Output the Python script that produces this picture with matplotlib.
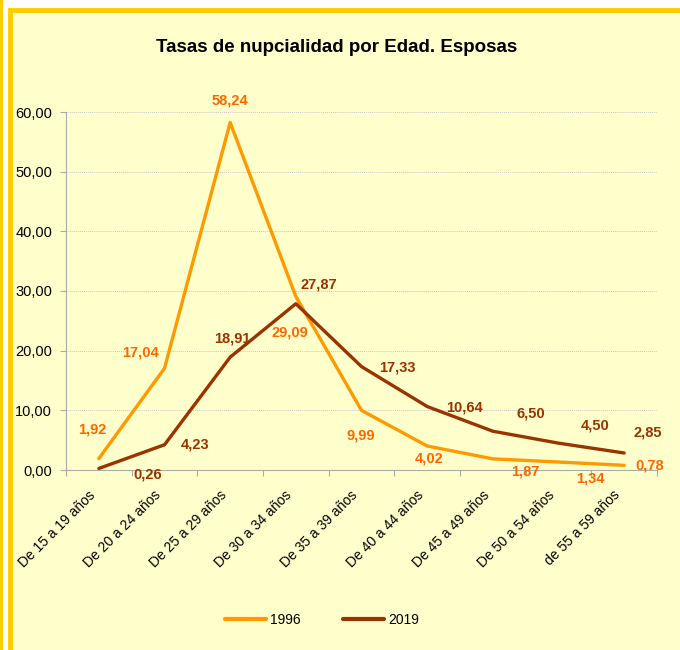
import matplotlib
matplotlib.use("Agg")
import matplotlib.pyplot as plt
from matplotlib.patches import Rectangle
from matplotlib.transforms import ScaledTranslation

plt.rcParams['font.family'] = ['Liberation Sans', 'DejaVu Sans']

categories = ["De 15 a 19 años", "De 20 a 24 años", "De 25 a 29 años", "De 30 a 34 años",
              "De 35 a 39 años", "De 40 a 44 años", "De 45 a 49 años", "De 50 a 54 años",
              "de 55 a 59 años"]
v1996 = [1.92, 17.04, 58.24, 29.09, 9.99, 4.02, 1.87, 1.34, 0.78]
v2019 = [0.26, 4.23, 18.91, 27.87, 17.33, 10.64, 6.50, 4.50, 2.85]
yticks = [0, 10, 20, 30, 40, 50, 60]

# label offsets in pixels (dx, dy)
off1996 = [(-7, 29), (-24, 16), (0, 22), (-6, -36), (-1, -25), (2, -12), (32, -13), (32, -16), (26, 0)]
off2019 = [(49, -6), (31, 0), (2, 19), (23, 19), (36, -1), (37, -1), (38, 18), (37, 18), (24, 20)]

W, H = 680, 650
fig = plt.figure(figsize=(W / 100, H / 100), dpi=100)
fig.patch.set_facecolor('white')

# frame
fig.patches.append(Rectangle((10 / W, -0.05), (W + 10) / W - 10 / W, (H - 10) / H + 0.05,
                             transform=fig.transFigure, facecolor='#FFFFCC',
                             edgecolor='#FFCC00', linewidth=3.5, zorder=-10))
fig.patches.append(Rectangle((0, 0), 3 / W, 1, transform=fig.transFigure,
                             facecolor='#FFCC00', edgecolor='none', zorder=-10))

left, right, top, bottom = 66, 657, 112, 470
ax = fig.add_axes([left / W, 1 - bottom / H, (right - left) / W, (bottom - top) / H])
ax.set_facecolor('none')
ax.set_zorder(1)

x = list(range(len(categories)))
ax.plot(x, v1996, color='#FF9900', linewidth=2.4, solid_capstyle='round', zorder=3, label='1996')
ax.plot(x, v2019, color='#993300', linewidth=2.4, solid_capstyle='round', zorder=3, label='2019')

for i, v in enumerate(v1996):
    ax.annotate(f"{v:.2f}".replace('.', ','), (i, v), xytext=off1996[i], textcoords='offset pixels',
                ha='center', va='center', color='#FF6600', fontsize=10.5, fontweight='bold', zorder=4)
for i, v in enumerate(v2019):
    ax.annotate(f"{v:.2f}".replace('.', ','), (i, v), xytext=off2019[i], textcoords='offset pixels',
                ha='center', va='center', color='#993300', fontsize=10.5, fontweight='bold', zorder=4)

ax.set_xlim(-0.5, len(categories) - 0.5)
ax.set_ylim(0, 60)
ax.set_yticks(yticks)
ax.set_yticklabels([f"{t:.2f}".replace('.', ',') for t in yticks], fontsize=10.5)
ax.yaxis.grid(True, color='#C8C8C8', linestyle=(0, (1, 1)), linewidth=0.7)
ax.set_axisbelow(True)

ax.set_xticks([i - 0.5 for i in range(len(categories) + 1)])
ax.set_xticklabels([])
ax.tick_params(axis='x', which='major', length=4, color='#AAAAAA')
ax.tick_params(axis='y', length=4, color='#AAAAAA', pad=6)

# category labels, rotated 45 degrees, right end under each category
xt = ax.get_xaxis_transform() + ScaledTranslation(-6 / 100, -23 / 100, fig.dpi_scale_trans)
for i, c in enumerate(categories):
    ax.text(i, 0, c, transform=xt, rotation=45, rotation_mode='anchor',
            ha='right', va='center', fontsize=10, clip_on=False)

for s in ['top', 'right']:
    ax.spines[s].set_visible(False)
ax.spines['left'].set_color('#AAAAAA')
ax.spines['bottom'].set_color('#AAAAAA')

fig.text(337 / W, 1 - 47 / H, "Tasas de nupcialidad por Edad. Esposas", ha='center', va='center',
         fontsize=13.5, fontweight='bold')

leg = fig.legend(loc='center', bbox_to_anchor=(322 / W, 1 - 620 / H), ncol=2, frameon=False,
                 fontsize=10, handlelength=3.0, columnspacing=3.0, handletextpad=0.3)
for line in leg.get_lines():
    line.set_linewidth(3)

fig.savefig('out.png', dpi=100, facecolor=fig.get_facecolor())
